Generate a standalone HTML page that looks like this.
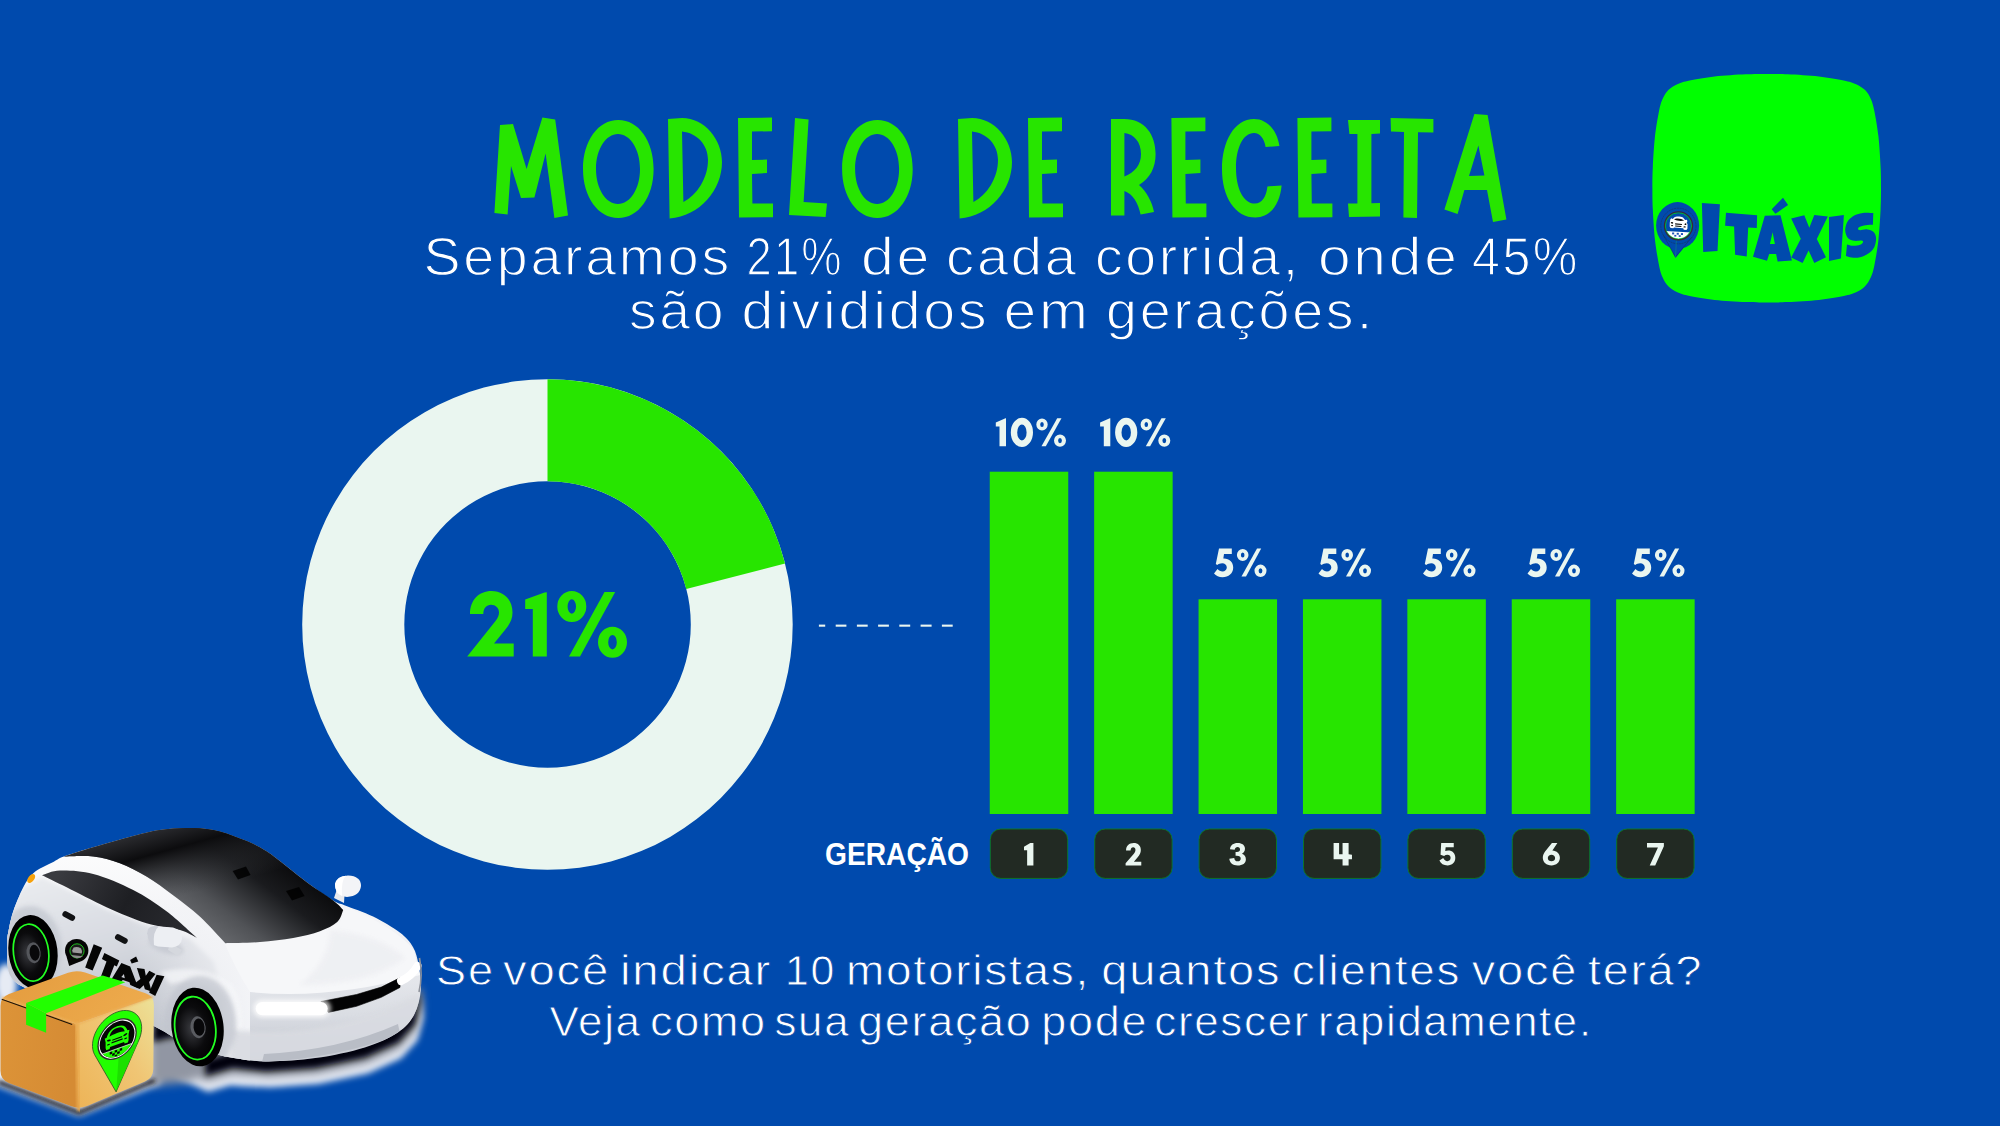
<!DOCTYPE html>
<html lang="pt-BR">
<head>
<meta charset="utf-8">
<title>Modelo de Receita</title>
<style>
  html, body { margin: 0; padding: 0; }
  body { width: 2000px; height: 1126px; overflow: hidden; background: #004AAD; font-family: "Liberation Sans", sans-serif; }
  #stage { position: absolute; left: 0; top: 0; width: 2000px; height: 1126px; display: block; }
  .sub { font-family: "Liberation Sans", sans-serif; fill: #ffffff; }
  .lbl { font-family: "Liberation Sans", sans-serif; font-weight: bold; }
</style>
</head>
<body>
<svg id="stage" width="2000" height="1126" viewBox="0 0 2000 1126">
  <rect x="0" y="0" width="2000" height="1126" fill="#004AAD"/>

  <!-- ===== DONUT ===== -->
  <g id="donut">
    <path fill="#EAF6F0" fill-rule="evenodd" d="M547.5 379.25 A245.25 245.25 0 1 1 547.4 379.25 Z M547.5 481.25 A143.25 143.25 0 1 0 547.6 481.25 Z"/>
    <path fill="#27E500" d="M547.5 379.25 A245.25 245.25 0 0 1 785.05 563.51 L686.25 588.88 A143.25 143.25 0 0 0 547.5 481.25 Z"/>
  </g>

  <!-- ===== DASHED CONNECTOR ===== -->
  <g id="dash" fill="#EAF6F0">
    <rect x="818.9" y="624.6" width="6.3" height="2.1"/>
    <rect x="835.7" y="624.6" width="10.7" height="2.1"/>
    <rect x="856.9" y="624.6" width="10.8" height="2.1"/>
    <rect x="878.1" y="624.6" width="10.8" height="2.1"/>
    <rect x="899.3" y="624.6" width="10.9" height="2.1"/>
    <rect x="920.6" y="624.6" width="11.0" height="2.1"/>
    <rect x="941.9" y="624.6" width="10.8" height="2.1"/>
  </g>

  <!-- ===== BARS ===== -->
  <g id="bars" fill="#27E500">
    <rect x="989.75" y="471.7" width="78.5" height="342.3"/>
    <rect x="1094.15" y="471.7" width="78.5" height="342.3"/>
    <rect x="1198.55" y="599.3" width="78.5" height="214.7"/>
    <rect x="1302.95" y="599.3" width="78.5" height="214.7"/>
    <rect x="1407.35" y="599.3" width="78.5" height="214.7"/>
    <rect x="1511.75" y="599.3" width="78.5" height="214.7"/>
    <rect x="1616.15" y="599.3" width="78.5" height="214.7"/>
  </g>

  <!-- ===== NUMBER BOXES ===== -->
  <g id="boxes" fill="#222A23" stroke="#0C7A24" stroke-width="0.9">
    <rect x="990.30" y="829" width="77.4" height="49.4" rx="10.5" ry="10.5"/>
    <rect x="1094.70" y="829" width="77.4" height="49.4" rx="10.5" ry="10.5"/>
    <rect x="1199.10" y="829" width="77.4" height="49.4" rx="10.5" ry="10.5"/>
    <rect x="1303.50" y="829" width="77.4" height="49.4" rx="10.5" ry="10.5"/>
    <rect x="1407.90" y="829" width="77.4" height="49.4" rx="10.5" ry="10.5"/>
    <rect x="1512.30" y="829" width="77.4" height="49.4" rx="10.5" ry="10.5"/>
    <rect x="1616.70" y="829" width="77.4" height="49.4" rx="10.5" ry="10.5"/>
  </g>

  <g id="title" fill="#27E500">
    <!-- M -->
    <polygon points="500,125 513,124 526.6,169 542.4,117.6 555.2,119.4 568,215.6 554.4,218 545.6,153.6 534.4,197.6 521,198 511,166 507.6,214.4 494.4,213"/>
    <!-- O -->
    <path id="tO" fill-rule="evenodd" d="M583,169 C583,141 598,120 618.3,120 C638.6,120 653.6,141 653.6,169 C653.6,197 638.6,218 618.3,218 C598,218 583,197 583,169 Z M596,169 C596,189 606,204 618,204 C630,204 640,189 640,169 C640,149 630,134 618,134 C606,134 596,149 596,169 Z"/>
    <!-- D -->
    <path id="tD" fill-rule="evenodd" d="M668,119 L682,118 C705,118 722,140 722,162 C722,190 700,216 669.6,218.4 Z M682,131.6 C697,133 708,145 708,160 C708,178 697,195 683.4,202 Z"/>
    <!-- E -->
    <polygon id="tE" points="738,118 772,117.6 772,131.2 752,131.6 752,160 767,159.6 767,173 752,174 752.4,203.4 773,203.4 773,217.2 739,217.6"/>
    <!-- L -->
    <polygon points="795,118 808.6,119.4 803.6,202 827,203.4 825.6,217 789,215"/>
    <!-- O -->
    <use href="#tO" x="259.1" y="0"/>
    <!-- D E -->
    <use href="#tD" x="290" y="0"/>
    <use href="#tE" x="290" y="0"/>
    <!-- R -->
    <path fill-rule="evenodd" d="M1111,119 L1124,119 C1145,119 1155.6,135 1155.6,154 C1155.6,168 1150,178 1139,185 C1147,192 1152,202 1154,212 L1140.6,214.4 C1138,203 1133,194 1124.4,191 L1124.4,215.4 L1111,215.6 Z M1124.4,133 C1134,134 1141,142 1141,154 C1141,165 1135,172 1124.4,176.6 Z"/>
    <!-- E -->
    <use href="#tE" x="433.4" y="0"/>
    <!-- C -->
    <path d="M1279.4,146 C1277,130 1267,119 1254,119 C1234,119 1222,142 1222,169 C1222,197 1235,217.6 1255.6,217.6 C1270,217.6 1280,204 1281.6,185.4 L1267.4,186.4 C1266.5,196 1262,203.6 1255,203.6 C1243,203.6 1236,188 1236,168 C1236,148 1243,133 1254,133 C1260,133 1264.5,139 1265.6,147 Z"/>
    <!-- E -->
    <use href="#tE" x="559.4" y="0"/>
    <!-- I -->
    <polygon points="1348,120 1380,120 1380,133.6 1371.4,134 1371.4,203.2 1380,203 1380,216.6 1349,217 1348,203.4 1357.4,203.4 1357.4,134 1349.4,134"/>
    <!-- T -->
    <polygon points="1390.6,118 1433.4,119 1433.4,132.6 1418,132.3 1417,218 1403.4,217.6 1404,131.9 1391,131.6"/>
    <!-- A -->
    <path fill-rule="evenodd" d="M1474.4,114 L1487.6,115 L1506.4,219.6 L1493,222 L1487,190 L1464.4,190 L1457.6,214 L1444.4,209.4 Z M1478.4,145.6 L1484.4,175.6 L1469,176 Z"/>
  </g>
  <!-- SECTION:TITLE -->
  <g class="sub" font-size="54" letter-spacing="2.6" stroke="#004AAD" stroke-width="1.3">
    <text x="423.5" y="274.5" textLength="308.4" lengthAdjust="spacingAndGlyphs">Separamos</text>
    <text x="746.6" y="274.5" textLength="97.2" lengthAdjust="spacingAndGlyphs">21%</text>
    <text x="860.9" y="274.5" textLength="71.4" lengthAdjust="spacingAndGlyphs">de</text>
    <text x="946.1" y="274.5" textLength="132.7" lengthAdjust="spacingAndGlyphs">cada</text>
    <text x="1095.0" y="274.5" textLength="205.8" lengthAdjust="spacingAndGlyphs">corrida,</text>
    <text x="1317.9" y="274.5" textLength="141.9" lengthAdjust="spacingAndGlyphs">onde</text>
    <text x="1472.1" y="274.5" textLength="107.7" lengthAdjust="spacingAndGlyphs">45%</text>
  </g>
  <g class="sub" font-size="54" letter-spacing="2.6" stroke="#004AAD" stroke-width="1.3">
    <text x="629.0" y="329" textLength="97.3" lengthAdjust="spacingAndGlyphs">são</text>
    <text x="741.5" y="329" textLength="247.8" lengthAdjust="spacingAndGlyphs">divididos</text>
    <text x="1003.5" y="329" textLength="87.3" lengthAdjust="spacingAndGlyphs">em</text>
    <text x="1106.1" y="329" textLength="250.2" lengthAdjust="spacingAndGlyphs">gerações</text>
    <text x="1356.9" y="329">.</text>
  </g>
  <g class="sub" font-size="42" letter-spacing="1.6" stroke="#004AAD" stroke-width="0.8">
    <text x="436.1" y="984.5" textLength="58.6" lengthAdjust="spacingAndGlyphs">Se</text>
    <text x="503.0" y="984.5" textLength="107.2" lengthAdjust="spacingAndGlyphs">você</text>
    <text x="620.0" y="984.5" textLength="152.2" lengthAdjust="spacingAndGlyphs">indicar</text>
    <text x="785.0" y="984.5" textLength="50.8" lengthAdjust="spacingAndGlyphs">10</text>
    <text x="846.0" y="984.5" textLength="244.1" lengthAdjust="spacingAndGlyphs">motoristas,</text>
    <text x="1101.3" y="984.5" textLength="180.0" lengthAdjust="spacingAndGlyphs">quantos</text>
    <text x="1291.8" y="984.5" textLength="169.5" lengthAdjust="spacingAndGlyphs">clientes</text>
    <text x="1471.8" y="984.5" textLength="106.5" lengthAdjust="spacingAndGlyphs">você</text>
    <text x="1588.0" y="984.5" textLength="115.3" lengthAdjust="spacingAndGlyphs">terá?</text>
  </g>
  <g class="sub" font-size="42" letter-spacing="1.6" stroke="#004AAD" stroke-width="0.8">
    <text x="549.5" y="1036.3" textLength="92.2" lengthAdjust="spacingAndGlyphs">Veja</text>
    <text x="650.0" y="1036.3" textLength="116.8" lengthAdjust="spacingAndGlyphs">como</text>
    <text x="774.5" y="1036.3" textLength="75.7" lengthAdjust="spacingAndGlyphs">sua</text>
    <text x="858.0" y="1036.3" textLength="174.6" lengthAdjust="spacingAndGlyphs">geração</text>
    <text x="1041.3" y="1036.3" textLength="107.0" lengthAdjust="spacingAndGlyphs">pode</text>
    <text x="1154.3" y="1036.3" textLength="155.8" lengthAdjust="spacingAndGlyphs">crescer</text>
    <text x="1318.0" y="1036.3" textLength="260.8" lengthAdjust="spacingAndGlyphs">rapidamente</text>
    <text x="1579.2" y="1036.3">.</text>
  </g>
  <!-- SECTION:TEXT -->
  <!-- 21% in donut (glyphs traced at 10x, origin 450,570) -->
  <g id="pct21" fill="#27E500" transform="translate(450 570) scale(0.1)">
    <path d="M200,440 C200,300 290,210 415,210 C540,210 625,300 625,425 C625,500 590,550 550,600 L440,735 L637,735 L637,865 L172,865 L455,510 C480,478 490,450 490,425 C490,380 455,348 410,348 C365,348 333,385 333,440 Z"/>
    <path d="M752,295 L945,225 L968,222 L968,865 L828,865 L828,390 L752,390 Z"/>
    <path fill-rule="evenodd" d="M1073,365 a145,155 0 1,0 290,0 a145,155 0 1,0 -290,0 Z M1176,365 a42,72 0 1,0 84,0 a42,72 0 1,0 -84,0 Z"/>
    <polygon points="1545,220 1652,220 1300,865 1190,865"/>
    <path fill-rule="evenodd" d="M1480,722 a145,155 0 1,0 290,0 a145,155 0 1,0 -290,0 Z M1582,722 a43,73 0 1,0 86,0 a43,73 0 1,0 -86,0 Z"/>
  </g>

  <defs>
    <g id="g10">
      <path d="M108,175 L205,133 L210,133 L210,413 L145,413 L145,215 L108,215 Z"/>
      <path fill-rule="evenodd" d="M258,274 a111,146 0 1,0 222,0 a111,146 0 1,0 -222,0 Z M322,274 a47,80 0 1,0 94,0 a47,80 0 1,0 -94,0 Z"/>
      <path fill-rule="evenodd" d="M513,195 a57,59 0 1,0 114,0 a57,59 0 1,0 -114,0 Z M552,195 a18,25 0 1,0 36,0 a18,25 0 1,0 -36,0 Z"/>
      <polygon points="722,133 765,133 608,413 565,413"/>
      <path fill-rule="evenodd" d="M690,356 a60,62 0 1,0 120,0 a60,62 0 1,0 -120,0 Z M731,356 a19,26 0 1,0 38,0 a19,26 0 1,0 -38,0 Z"/>
    </g>
    <g id="g5">
      <path d="M190,135 L318,135 L318,190 L240,190 L233,235 C290,232 332,268 332,325 C332,385 285,422 225,422 C190,422 160,408 140,385 L175,340 C188,355 205,365 225,365 C250,365 268,348 268,325 C268,300 248,283 222,283 C202,283 185,290 172,300 L158,290 Z"/>
      <path fill-rule="evenodd" d="M369,200 a58,60 0 1,0 116,0 a58,60 0 1,0 -116,0 Z M409,200 a18,25 0 1,0 36,0 a18,25 0 1,0 -36,0 Z"/>
      <polygon points="570,135 612,135 460,415 415,415"/>
      <path fill-rule="evenodd" d="M545,358 a60,62 0 1,0 120,0 a60,62 0 1,0 -120,0 Z M586,358 a19,26 0 1,0 38,0 a19,26 0 1,0 -38,0 Z"/>
    </g>
  </defs>
  <g id="barlabels" fill="#EAF6F0">
    <use href="#g10" transform="translate(985 405) scale(0.1)"/>
    <use href="#g10" transform="translate(1089.3 405) scale(0.1)"/>
    <use href="#g5" transform="translate(1200 535) scale(0.1)"/>
    <use href="#g5" transform="translate(1304.5 535) scale(0.1)"/>
    <use href="#g5" transform="translate(1409 535) scale(0.1)"/>
    <use href="#g5" transform="translate(1513.5 535) scale(0.1)"/>
    <use href="#g5" transform="translate(1618 535) scale(0.1)"/>
  </g>

  <!-- GERAÇÃO + digits -->
  <text class="lbl" x="825" y="865" font-size="30.5" fill="#ffffff" textLength="144" lengthAdjust="spacingAndGlyphs">GERAÇÃO</text>
  <g id="digits" fill="#EAF6F0">
    <path transform="translate(1024 843) scale(0.224)" d="M0,17 L28,0 L42,0 L42,100 L14,100 L14,32 L0,32 Z"/>
    <path transform="translate(1125.6 843) scale(0.224)" d="M2,34 C2,12 16,0 36,0 C56,0 68,12 68,31 C68,43 63,52 54,64 L37,84 L70,84 L70,100 L0,100 L0,90 L36,49 C41,42 44,37 44,31 C44,23 40,19 34,19 C27,19 23,24 22,34 Z"/>
    <path transform="translate(1229.3 843) scale(0.224)" d="M3,28 C5,10 18,0 37,0 C58,0 70,10 70,26 C70,37 64,44 56,48 C67,51 74,60 74,72 C74,90 60,100 37,100 C16,100 2,89 0,70 L22,67 C23,77 29,82 37,82 C45,82 51,77 51,70 C51,61 45,57 34,57 L28,57 L28,40 L34,40 C43,40 48,36 48,29 C48,22 44,18 37,18 C30,18 26,22 24,30 Z"/>
    <path transform="translate(1333.6 843) scale(0.224)" d="M0,0 L24.5,0 L24.5,50 L40,50 L40,0 L67,0 L67,50 L82,52 L82,72.7 L67,72.7 L67,100 L40,100 L40,72.7 L0,72.7 Z"/>
    <path transform="translate(1439.4 843) scale(0.224)" d="M8,0 L64,0 L64,19 L28,19 L26,36 C30,35 34,34 39,34 C58,34 71,46 71,66 C71,87 57,100 36,100 C19,100 6,92 0,78 L17,67 C21,76 28,81 36,81 C44,81 50,75 50,66 C50,57 44,52 36,52 C30,52 25,54 21,58 L5,53 Z"/>
    <path transform="translate(1542.8 843) scale(0.228 0.224)" fill-rule="evenodd" d="M40,0 L64,0 L42,34 C61,35 75,48 75,66 C75,86 59,100 38,100 C16,100 0,86 0,66 C0,55 4,47 10,38 Z M38,52 C29,52 22,58 22,67 C22,76 29,82 38,82 C47,82 54,76 54,67 C54,58 47,52 38,52 Z"/>
    <path transform="translate(1647 843) scale(0.228 0.224)" d="M0,0 L74,0 L74,14 L36,100 L12,100 L48,20 L0,20 Z"/>
  </g>
  <!-- SECTION:LABELS -->
  <g id="logo">
    <path fill="#00FF00" d="M1766.7,73.9 C1759.7,73.9 1754.4,73.9 1745.7,74.3 C1737.0,74.7 1723.9,75.5 1714.6,76.5 C1705.2,77.6 1695.9,79.3 1689.7,80.5 C1683.5,81.8 1680.8,82.6 1677.3,84.2 C1673.8,85.7 1671.1,87.3 1668.6,89.8 C1666.2,92.2 1664.3,95.3 1662.7,98.8 C1661.1,102.4 1660.3,105.0 1659.0,111.2 C1657.8,117.4 1656.1,126.7 1655.0,136.1 C1654.0,145.4 1653.2,158.5 1652.8,167.2 C1652.4,175.9 1652.4,181.2 1652.4,188.2 C1652.4,195.2 1652.4,200.5 1652.8,209.2 C1653.2,217.9 1654.0,231.0 1655.0,240.3 C1656.1,249.7 1657.8,259.0 1659.0,265.2 C1660.3,271.4 1661.1,274.1 1662.7,277.6 C1664.2,281.1 1665.8,283.8 1668.3,286.3 C1670.7,288.7 1673.8,290.6 1677.3,292.2 C1680.9,293.8 1683.5,294.6 1689.7,295.9 C1695.9,297.1 1705.2,298.8 1714.6,299.9 C1723.9,300.9 1737.0,301.7 1745.7,302.1 C1754.4,302.5 1759.7,302.5 1766.7,302.5 C1773.7,302.5 1779.0,302.5 1787.7,302.1 C1796.4,301.7 1809.5,300.9 1818.8,299.9 C1828.2,298.8 1837.5,297.1 1843.7,295.9 C1849.9,294.6 1852.6,293.8 1856.1,292.2 C1859.6,290.7 1862.3,289.1 1864.8,286.6 C1867.2,284.2 1869.1,281.1 1870.7,277.6 C1872.3,274.0 1873.1,271.4 1874.4,265.2 C1875.6,259.0 1877.3,249.7 1878.4,240.3 C1879.4,231.0 1880.2,217.9 1880.6,209.2 C1881.0,200.5 1881.0,195.2 1881.0,188.2 C1881.0,181.2 1881.0,175.9 1880.6,167.2 C1880.2,158.5 1879.4,145.4 1878.4,136.1 C1877.3,126.7 1875.6,117.4 1874.4,111.2 C1873.1,105.0 1872.3,102.3 1870.7,98.8 C1869.2,95.3 1867.6,92.6 1865.1,90.1 C1862.7,87.7 1859.6,85.8 1856.1,84.2 C1852.5,82.6 1849.9,81.8 1843.7,80.5 C1837.5,79.3 1828.2,77.6 1818.8,76.5 C1809.5,75.5 1796.4,74.7 1787.7,74.3 C1779.0,73.9 1773.7,73.9 1766.7,73.9 Z"/>
    <g fill="#004AAD">
      <!-- pin -->
      <ellipse cx="1677.6" cy="225.6" rx="21.5" ry="23.5"/>
      <polygon points="1669.4,246.6 1675.5,258.1 1683.8,247.8 1677,240"/>
      <!-- I -->
      <polygon points="1701.9,203.1 1719.9,204.3 1717.5,251 1703.2,251.9"/>
      <!-- T -->
      <polygon points="1726,212.7 1757.1,215.2 1756.8,228 1748.2,227.6 1746.7,256.6 1735.1,254.8 1734.1,226.4 1725.1,225.8"/>
      <!-- A + accent -->
      <polygon points="1783,197.8 1788.1,205.1 1775.4,213.8 1771.7,209.2"/>
      <path fill-rule="evenodd" d="M1764.8,215.7 L1780.5,215.2 L1791.9,260.4 L1777.6,261.6 L1776.1,254 L1769.2,254 L1767,260.7 L1753,256.8 Z M1772.6,232.3 L1774.9,244 L1769.9,244 Z"/>
      <!-- X -->
      <polygon points="1791.2,218.4 1804.3,215.2 1809.3,227.7 1814.3,215 1827.8,216.4 1816.8,239 1826,257.2 1814.3,262.9 1808.6,250.4 1802.6,263.1 1791.2,257.5 1800.8,238.7"/>
      <!-- I -->
      <polygon points="1829,217 1843.9,215 1840.9,258.6 1829,260.9"/>
      <!-- S -->
      <path d="M1873.3,213.1 C1872.0,213.0 1868.0,212.6 1865.8,212.7 C1863.6,212.8 1862.2,212.9 1860.1,213.5 C1858.0,214.1 1855.1,214.9 1853.0,216.3 C1850.9,217.7 1848.6,219.6 1847.3,222.0 C1846.0,224.4 1845.1,227.8 1845.2,230.5 C1845.3,233.2 1846.5,236.6 1848.1,238.3 C1849.6,240.0 1852.2,240.4 1854.5,240.8 C1856.8,241.2 1860.2,240.3 1861.6,240.5 C1863.0,240.7 1863.2,241.5 1863.0,242.2 C1862.8,242.9 1861.8,244.1 1860.1,244.7 C1858.4,245.3 1855.2,245.9 1853.0,245.8 C1850.8,245.8 1848.0,244.6 1847.0,244.4 L1845.9,256.1 C1846.9,256.3 1849.2,257.3 1851.6,257.5 C1854.0,257.7 1857.2,257.9 1860.1,257.2 C1862.9,256.5 1866.3,255.0 1868.7,253.3 C1871.1,251.6 1873.2,249.4 1874.4,246.9 C1875.6,244.4 1876.2,240.8 1876.1,238.3 C1876.0,235.8 1875.1,233.4 1873.6,231.9 C1872.1,230.4 1869.5,229.7 1867.2,229.4 C1865.0,229.1 1861.6,230.2 1860.1,230.2 C1858.6,230.1 1858.1,229.6 1858.0,229.1 C1857.9,228.6 1858.1,227.7 1859.4,227.0 C1860.7,226.3 1863.5,225.6 1865.8,225.2 C1868.0,224.8 1871.7,224.9 1872.9,224.8 Z"/>
    </g>
    <!-- pin emblem -->
    <g>
      <ellipse cx="1678.4" cy="226" rx="17.6" ry="17.8" fill="none" stroke="#23283a" stroke-width="0.45" opacity="0.85" stroke-dasharray="2.2 0.6"/>
      <path d="M1663.6,235.5 L1675.4,257 L1691.6,237.5" fill="none" stroke="#23283a" stroke-width="0.45" opacity="0.85"/>
      <line x1="1676.4" y1="240.5" x2="1675.5" y2="257" stroke="#13907a" stroke-width="0.5"/>
      <clipPath id="pinclip"><circle cx="1678.4" cy="225.9" r="13"/></clipPath>
      <circle cx="1678.4" cy="225.9" r="13" fill="#004AAD"/>
      <g clip-path="url(#pinclip)">
        <polygon points="1660,230.6 1700,232.9 1700,245 1660,245" fill="#ffffff"/>
        <!-- checker -->
        <g fill="#1f55b5">
          <rect x="1672.1" y="232.5" width="2.1" height="1.9"/><rect x="1676.7" y="232.8" width="2.1" height="1.9"/><rect x="1680.9" y="233.1" width="2.1" height="1.9"/>
          <rect x="1674.3" y="234.9" width="2.0" height="1.7"/><rect x="1678.7" y="235.2" width="2.0" height="1.7"/>
        </g>
      </g>
      <circle cx="1678.4" cy="225.9" r="13.1" fill="none" stroke="#00E400" stroke-width="0.7"/>
      <circle cx="1678.5" cy="225.8" r="14.1" fill="none" stroke="#3A2B2E" stroke-width="1.15"/>
      <!-- mini car -->
      <g>
        <path fill="#ffffff" d="M1669.8,222.5 L1670.3,219.4 L1671.2,218.3 L1672.7,219.1 L1674.2,217.4 C1676,216.2 1680.4,216.3 1683,217.5 L1685.1,219.9 L1686.8,219.8 L1687.5,221.2 L1686.7,222.3 L1687.6,224.6 L1687.4,228.7 L1686.4,229.9 L1683.8,229.7 L1683.2,228.3 L1674,227.5 L1673.4,228.3 L1670.6,228.1 L1669.7,226.6 Z"/>
        <path fill="#0a0a0a" d="M1674,219.6 C1675.4,217.8 1681.4,218 1684.2,220.6 C1681.5,221.3 1676.5,221 1674,219.6 Z"/>
        <path fill="#0a0a0a" d="M1675.1,223.3 L1682,223.9 L1681.9,225 L1675.1,224.5 Z"/>
        <path fill="#0a0a0a" d="M1675.2,225.5 L1681.4,226 L1681.3,226.9 L1675.2,226.5 Z"/>
        <ellipse cx="1672" cy="222.8" rx="1.25" ry="0.85" fill="#0a0a0a" transform="rotate(15 1672 222.8)"/>
        <ellipse cx="1685.5" cy="224.2" rx="1.0" ry="0.85" fill="#0a0a0a" transform="rotate(-20 1685.5 224.2)"/>
        <ellipse cx="1672.1" cy="225.6" rx="1.1" ry="0.55" fill="#0a0a0a"/>
        <ellipse cx="1684.6" cy="226.9" rx="1.2" ry="0.55" fill="#0a0a0a"/>
      </g>
    </g>
  </g>
  <!-- SECTION:LOGO -->
  <defs>
    <filter id="blur10" x="-30%" y="-30%" width="160%" height="160%"><feGaussianBlur stdDeviation="9"/></filter>
    <filter id="blur3" x="-30%" y="-30%" width="160%" height="160%"><feGaussianBlur stdDeviation="3.2"/></filter>
    <filter id="blur5" x="-30%" y="-30%" width="160%" height="160%"><feGaussianBlur stdDeviation="5"/></filter>
    <filter id="blur2" x="-30%" y="-30%" width="160%" height="160%"><feGaussianBlur stdDeviation="2"/></filter>
    <filter id="blur1" x="-30%" y="-30%" width="160%" height="160%"><feGaussianBlur stdDeviation="1"/></filter>
    <linearGradient id="bodyG" x1="0" y1="0" x2="0" y2="1">
      <stop offset="0" stop-color="#FFFFFF"/><stop offset="0.45" stop-color="#F1F2F5"/><stop offset="0.8" stop-color="#DADDE3"/><stop offset="1" stop-color="#BFC3CC"/>
    </linearGradient>
    <linearGradient id="sideG" x1="0" y1="0" x2="0.35" y2="1">
      <stop offset="0" stop-color="#ECEEF1"/><stop offset="0.5" stop-color="#D5D8DF"/><stop offset="1" stop-color="#AEB3BD"/>
    </linearGradient>
    <linearGradient id="glassG" gradientUnits="userSpaceOnUse" x1="290" y1="850" x2="215" y2="950">
      <stop offset="0" stop-color="#050506"/><stop offset="0.35" stop-color="#1A1B1E"/><stop offset="0.7" stop-color="#505256"/><stop offset="1" stop-color="#6E7074"/>
    </linearGradient>
    <linearGradient id="roofG" gradientUnits="userSpaceOnUse" x1="150" y1="828" x2="170" y2="900">
      <stop offset="0" stop-color="#2E2F33"/><stop offset="0.35" stop-color="#0C0C0E"/><stop offset="1" stop-color="#3B3D41" stop-opacity="0"/>
    </linearGradient>
    <linearGradient id="winG" gradientUnits="userSpaceOnUse" x1="60" y1="870" x2="190" y2="940">
      <stop offset="0" stop-color="#3A3B40"/><stop offset="0.5" stop-color="#1E1F23"/><stop offset="1" stop-color="#2B2C31"/>
    </linearGradient>
    <radialGradient id="tireG" cx="0.42" cy="0.5" r="0.6">
      <stop offset="0" stop-color="#3A3B40"/><stop offset="0.55" stop-color="#0B0B0D"/><stop offset="1" stop-color="#000000"/>
    </radialGradient>
    <linearGradient id="fenderFade" x1="0" y1="0" x2="1" y2="0">
      <stop offset="0" stop-color="#F2F3F6" stop-opacity="0"/><stop offset="0.55" stop-color="#F2F3F6" stop-opacity="0.6"/><stop offset="1" stop-color="#F4F5F8" stop-opacity="0.95"/>
    </linearGradient>
    <linearGradient id="boxTop" x1="0" y1="0" x2="1" y2="0.3"><stop offset="0" stop-color="#E39B3E"/><stop offset="1" stop-color="#EDAA4C"/></linearGradient>
    <linearGradient id="boxL" x1="0" y1="0" x2="1" y2="0.2"><stop offset="0" stop-color="#DD9438"/><stop offset="1" stop-color="#D58B34"/></linearGradient>
    <linearGradient id="boxR" x1="0" y1="1" x2="1" y2="0"><stop offset="0" stop-color="#EDB356"/><stop offset="0.55" stop-color="#F0C574"/><stop offset="1" stop-color="#ECE39A"/></linearGradient>
    <clipPath id="silclip"><path d="M40.0,868.6 C43.7,866.4 49.3,864.0 53.3,862.0 C57.3,860.0 57.2,859.1 63.9,856.6 C70.5,854.1 81.7,850.7 93.2,847.3 C104.8,843.9 122.1,838.9 133.2,836.0 C144.3,833.1 150.9,831.3 159.8,830.0 C168.7,828.7 177.6,828.0 186.5,828.0 C195.4,828.0 204.4,828.2 213.3,830.0 C222.2,831.8 231.1,835.0 240.0,838.5 C248.9,842.0 255.5,844.0 266.6,851.3 C277.7,858.5 295.4,873.8 306.5,882.0 C317.6,890.2 326.8,896.7 333.2,900.6 C339.6,904.5 338.4,902.8 345.0,905.5 C351.6,908.2 364.0,912.1 373.1,916.6 C382.2,921.1 393.1,927.5 399.8,932.6 C406.5,937.7 410.0,941.8 413.1,947.2 C416.2,952.6 417.2,957.7 418.5,964.8 C419.8,971.9 421.6,981.4 420.9,989.6 C420.2,997.9 418.1,1007.1 414.3,1014.3 C410.5,1021.4 406.1,1027.0 397.8,1032.5 C389.6,1038.0 378.6,1043.1 364.8,1047.4 C351.0,1051.7 331.7,1055.8 315.2,1058.1 C298.7,1060.4 280.1,1061.6 265.6,1061.4 C251.1,1061.2 237.3,1058.6 228.0,1057.0 C218.7,1055.4 217.2,1054.0 210.0,1052.0 C202.8,1050.0 192.5,1048.3 185.0,1045.0 C177.5,1041.7 172.5,1036.2 165.0,1032.0 C157.5,1027.8 150.8,1024.5 140.0,1020.0 C129.2,1015.5 113.3,1009.2 100.0,1005.0 C86.7,1000.8 71.7,997.5 60.0,995.0 C48.3,992.5 38.3,993.3 30.0,990.0 C21.7,986.7 13.8,982.8 10.0,975.0 C6.2,967.2 7.5,950.7 7.3,943.2 C7.1,935.7 7.9,934.6 8.7,929.9 C9.5,925.2 10.6,920.1 12.0,915.2 C13.4,910.3 15.3,905.5 17.3,900.6 C19.3,895.7 21.7,890.1 24.0,885.9 C26.3,881.7 28.6,878.2 31.3,875.3 C34.0,872.4 36.3,870.8 40.0,868.6 Z"/></clipPath>
  </defs>
  <g id="car">
    <!-- white halo -->
    <g filter="url(#blur3)" fill="#E6EBF4">
      <polygon points="150.0,1024.0 175.0,1046.0 205.0,1060.0 232.0,1052.0 265.6,1055.4 315.2,1052.1 364.8,1041.4 397.8,1026.5 414.3,1008.3 420.0,986.0 423.1,1018.0 417.4,1040.3 400.9,1058.5 367.9,1073.4 318.3,1084.1 268.7,1087.4 235.1,1084.0 208.1,1092.0 178.1,1078.0 153.1,1056.0"/>
      <ellipse cx="262" cy="1046" rx="108" ry="41"/>
      <polygon points="-8,1000 -8,1084 79,1116 160,1084 172,1040 150,1000"/>
      <ellipse cx="6" cy="984" rx="11" ry="20"/>
    </g>
    <!-- ground shadow -->
    <g filter="url(#blur5)" fill="#9196A3">
      <polygon points="150.0,1024.0 175.0,1046.0 205.0,1060.0 232.0,1052.0 265.6,1055.4 315.2,1052.1 364.8,1041.4 397.8,1026.5 414.3,1008.3 420.0,986.0 421.9,1008.0 416.2,1030.3 399.7,1048.5 366.7,1063.4 317.1,1074.1 267.5,1077.4 233.9,1074.0 206.9,1082.0 176.9,1068.0 151.9,1046.0"/>
      <ellipse cx="262" cy="1046" rx="100" ry="30"/>
      <polygon points="150,1030 215,1066 190,1082 150,1086"/>
    </g>
    <g filter="url(#blur3)" fill="#040407">
      <polygon points="205.0,1060.0 232.0,1052.0 265.6,1055.4 315.2,1052.1 364.8,1041.4 397.8,1026.5 414.3,1008.3 420.0,986.0 420.5,1002.0 414.8,1024.3 398.3,1042.5 365.3,1057.4 315.7,1068.1 266.1,1071.4 232.5,1068.0 205.5,1076.0"/>
      <polygon points="153,1000 170,1010 182,1036 153,1042"/>
    </g>
    <!-- box contact shadow -->
    <g filter="url(#blur2)" fill="none" stroke="#15161c" stroke-width="5" opacity="0.85" stroke-linecap="round">
      <path d="M0,1082.5 L79,1112.5 L153,1081"/>
    </g>
    <!-- body -->
    <path d="M40.0,868.6 C43.7,866.4 49.3,864.0 53.3,862.0 C57.3,860.0 57.2,859.1 63.9,856.6 C70.5,854.1 81.7,850.7 93.2,847.3 C104.8,843.9 122.1,838.9 133.2,836.0 C144.3,833.1 150.9,831.3 159.8,830.0 C168.7,828.7 177.6,828.0 186.5,828.0 C195.4,828.0 204.4,828.2 213.3,830.0 C222.2,831.8 231.1,835.0 240.0,838.5 C248.9,842.0 255.5,844.0 266.6,851.3 C277.7,858.5 295.4,873.8 306.5,882.0 C317.6,890.2 326.8,896.7 333.2,900.6 C339.6,904.5 338.4,902.8 345.0,905.5 C351.6,908.2 364.0,912.1 373.1,916.6 C382.2,921.1 393.1,927.5 399.8,932.6 C406.5,937.7 410.0,941.8 413.1,947.2 C416.2,952.6 417.2,957.7 418.5,964.8 C419.8,971.9 421.6,981.4 420.9,989.6 C420.2,997.9 418.1,1007.1 414.3,1014.3 C410.5,1021.4 406.1,1027.0 397.8,1032.5 C389.6,1038.0 378.6,1043.1 364.8,1047.4 C351.0,1051.7 331.7,1055.8 315.2,1058.1 C298.7,1060.4 280.1,1061.6 265.6,1061.4 C251.1,1061.2 237.3,1058.6 228.0,1057.0 C218.7,1055.4 217.2,1054.0 210.0,1052.0 C202.8,1050.0 192.5,1048.3 185.0,1045.0 C177.5,1041.7 172.5,1036.2 165.0,1032.0 C157.5,1027.8 150.8,1024.5 140.0,1020.0 C129.2,1015.5 113.3,1009.2 100.0,1005.0 C86.7,1000.8 71.7,997.5 60.0,995.0 C48.3,992.5 38.3,993.3 30.0,990.0 C21.7,986.7 13.8,982.8 10.0,975.0 C6.2,967.2 7.5,950.7 7.3,943.2 C7.1,935.7 7.9,934.6 8.7,929.9 C9.5,925.2 10.6,920.1 12.0,915.2 C13.4,910.3 15.3,905.5 17.3,900.6 C19.3,895.7 21.7,890.1 24.0,885.9 C26.3,881.7 28.6,878.2 31.3,875.3 C34.0,872.4 36.3,870.8 40.0,868.6 Z" fill="url(#bodyG)"/>
    <g clip-path="url(#silclip)">
      <!-- side surface (door) -->
      <path d="M22,888 L42,877 L66,889 L106,909 L146,925 L190,939 L214,962 L224,1000 L228,1062 L0,1012 L0,930 Z" fill="url(#sideG)" filter="url(#blur2)"/>
      <rect x="130" y="900" width="120" height="170" fill="url(#fenderFade)"/>
      <!-- fender highlight -->
      <path d="M160,972 Q200,962 232,984 Q246,1006 240,1040 L228,1000 Q206,976 170,984 Z" fill="#F6F7F9" opacity="0.75" filter="url(#blur2)"/>
      <!-- hood panel -->
      <path d="M225,944 Q300,943 340,922 L346,907 Q395,927 414,950 L420,975 Q330,1000 250,992 Q236,970 225,944 Z" fill="#F6F7F9"/>
      <path d="M330,930 Q380,935 405,958 Q370,985 300,985 Q330,960 330,930 Z" fill="#ECEDF1" opacity="0.7" filter="url(#blur2)"/>
      <!-- bumper lower shade -->
      <path d="M232,1030 Q330,1040 418,995 L420,1020 Q340,1064 230,1064 Z" fill="#D9DBE1" opacity="0.9" filter="url(#blur2)"/>
      <path d="M264,1054 Q340,1050 398,1024 L400,1034 Q340,1058 262,1062 Z" fill="#B9BDC6"/>
      <!-- front wheel arch shading -->
      <ellipse cx="200" cy="1024" rx="36" ry="48" fill="#BFC3CC" opacity="0.7" filter="url(#blur2)"/>
      <ellipse cx="30" cy="950" rx="32" ry="44" fill="#C5C9D1" opacity="0.8" filter="url(#blur2)"/>
    </g>
    <!-- glass canopy -->
    <path d="M63.9,856.6 C68.8,855.0 81.7,850.7 93.2,847.3 C104.8,843.9 122.1,838.9 133.2,836.0 C144.3,833.1 150.9,831.3 159.8,830.0 C168.7,828.7 177.6,828.0 186.5,828.0 C195.4,828.0 204.4,828.2 213.3,830.0 C222.2,831.8 231.1,835.0 240.0,838.5 C248.9,842.0 255.5,844.0 266.6,851.3 C277.7,858.5 295.4,873.8 306.5,882.0 C317.6,890.2 327.1,895.9 333.2,900.6 C339.3,905.3 341.5,908.4 343.2,910.0 L343.2,910.0 C342.2,912.0 341.1,918.5 337.2,922.0 C333.3,925.5 327.3,928.5 320.0,931.2 C312.7,933.9 303.2,936.2 293.2,938.0 C283.2,939.8 271.3,941.1 260.0,942.0 C248.7,942.9 231.1,943.0 225.3,943.2 L225.3,943.2 C221.1,938.8 208.5,924.5 199.8,916.5 C191.1,908.5 182.0,901.9 173.1,895.2 C164.2,888.6 155.4,881.9 146.5,876.6 C137.6,871.3 128.8,866.6 119.9,863.3 C111.0,860.0 102.5,857.7 93.2,856.6 C83.9,855.5 68.8,856.6 63.9,856.6 Z" fill="url(#glassG)"/>
    <path d="M63.9,856.6 C68.8,855.0 81.7,850.7 93.2,847.3 C104.8,843.9 122.1,838.9 133.2,836.0 C144.3,833.1 150.9,831.3 159.8,830.0 C168.7,828.7 177.6,828.0 186.5,828.0 C195.4,828.0 204.4,828.2 213.3,830.0 C222.2,831.8 231.1,835.0 240.0,838.5 C248.9,842.0 255.5,844.0 266.6,851.3 C277.7,858.5 295.4,873.8 306.5,882.0 C317.6,890.2 327.1,895.9 333.2,900.6 C339.3,905.3 341.5,908.4 343.2,910.0 L343.2,910.0 C342.2,912.0 341.1,918.5 337.2,922.0 C333.3,925.5 327.3,928.5 320.0,931.2 C312.7,933.9 303.2,936.2 293.2,938.0 C283.2,939.8 271.3,941.1 260.0,942.0 C248.7,942.9 231.1,943.0 225.3,943.2 L225.3,943.2 C221.1,938.8 208.5,924.5 199.8,916.5 C191.1,908.5 182.0,901.9 173.1,895.2 C164.2,888.6 155.4,881.9 146.5,876.6 C137.6,871.3 128.8,866.6 119.9,863.3 C111.0,860.0 102.5,857.7 93.2,856.6 C83.9,855.5 68.8,856.6 63.9,856.6 Z" fill="url(#roofG)"/>
    <path d="M232.6,871 L246,866.5 L250.6,875 L238,879.5 Z" fill="#000" opacity="0.85"/>
    <path d="M286,891 L299,887 L304.6,896 L292,900.5 Z" fill="#000" opacity="0.85"/>
    <!-- side window -->
    <path d="M42.0,875.3 C45.0,874.5 51.5,870.8 60.0,870.6 C68.5,870.4 81.0,870.8 93.2,874.0 C105.4,877.2 121.0,883.8 133.2,890.0 C145.4,896.2 155.9,903.2 166.5,911.2 C177.1,919.2 191.9,933.5 197.0,937.9 L197.0,937.9 C194.2,936.6 188.4,932.5 180.0,930.0 C171.6,927.5 158.8,927.0 146.5,923.2 C134.2,919.4 119.8,913.2 106.5,907.2 C93.2,901.2 77.3,892.6 66.6,887.3 C55.8,882.0 46.1,877.3 42.0,875.3 Z" fill="url(#winG)"/>
    <!-- orange lamp -->
    <ellipse cx="31.2" cy="878.5" rx="5.2" ry="3" fill="#F6A20C" transform="rotate(-52 31.2 878.5)"/>
    <!-- door handles -->
    <rect x="62" y="913" width="13.5" height="6" rx="2.8" fill="#111214" transform="rotate(28 68.7 916)"/>
    <rect x="114.6" y="936" width="13.5" height="6" rx="2.8" fill="#111214" transform="rotate(28 121.3 939)"/>
    <!-- left mirror -->
    <ellipse cx="166" cy="946" rx="18" ry="7" fill="#B9BDC7" opacity="0.55" filter="url(#blur2)" transform="rotate(18 166 946)"/>
    <path d="M170,943 L182,950 L178,956 L168,950 Z" fill="#D5D8DE"/>
    <path d="M147,933.5 Q146.5,926.5 154,926 L173,927.5 Q183,930 182,939 Q181,946.5 172,947.5 L158,946.5 Q148,944.5 147,933.5 Z" fill="#EDEFF3"/>
    <path d="M147,933.5 Q146.5,926.5 154,926 L159,926.3 Q152.5,931 154,946 Q147.8,943 147,933.5 Z" fill="#CDD0D8"/>
    <!-- right mirror -->
    <path d="M334,898 L338,886 L345,888 L344,903 Z" fill="#E8EAEE"/>
    <path d="M335,884 Q337,876 348,875.5 Q361,876 361,886 Q360,896 347,897 Q335,896 335,884 Z" fill="#F3F4F7"/>
    <path d="M335,884 Q337,876 346,875.7 Q341,880 342,896 Q335,893 335,884 Z" fill="#FFFFFF"/>
    <!-- grille + headlights -->
    <path d="M321,1001.5 L356.5,994.5 L381.3,987.1 L400.3,977.6 L400,987.4 L381.3,997.3 L356.5,1006.3 L328.4,1012.4 Z" fill="#030304" stroke="#030304" stroke-width="0.6" stroke-linejoin="round"/>
    <rect x="253" y="999.5" width="78" height="18" rx="9" fill="#FFFFFF" opacity="0.75" filter="url(#blur2)"/>
    <rect x="255.7" y="1002" width="72" height="13.2" rx="6.6" fill="#FFFFFF"/>
    <path d="M401,981 Q412,976 417.5,966" stroke="#FFFFFF" stroke-width="8" stroke-linecap="round" fill="none"/>
    <path d="M419.5,958 Q423,975 419,992" stroke="#8E929B" stroke-width="1.6" fill="none"/>
    <!-- rear wheel -->
    <g transform="rotate(-7 32 952)">
      <ellipse cx="33" cy="952" rx="24.5" ry="37" fill="#000"/>
      <ellipse cx="31" cy="952.5" rx="19" ry="30.5" fill="url(#tireG)"/>
      <ellipse cx="31" cy="952.5" rx="17.6" ry="28.6" fill="none" stroke="#22FF22" stroke-width="1.7"/>
      <ellipse cx="33.5" cy="953" rx="7" ry="10.5" fill="#55575C"/>
      <ellipse cx="34.5" cy="953" rx="5" ry="8" fill="#08080A"/>
    </g>
    <!-- front wheel -->
    <g transform="rotate(-7 196 1027)">
      <ellipse cx="197.5" cy="1027.2" rx="26" ry="39.5" fill="#000"/>
      <ellipse cx="195.1" cy="1028" rx="21.5" ry="33" fill="url(#tireG)"/>
      <ellipse cx="195.1" cy="1028" rx="20.4" ry="31.6" fill="none" stroke="#22FF22" stroke-width="1.8"/>
      <ellipse cx="198" cy="1027.5" rx="7.5" ry="11" fill="#5A5C61"/>
      <ellipse cx="199" cy="1027.5" rx="5.5" ry="8.6" fill="#08080A"/>
    </g>
    <!-- door branding -->
    <g fill="#050505">
      <circle cx="76.7" cy="950.6" r="11.7"/>
      <polygon points="66.5,956.5 69.2,965.9 79.5,961.8"/>
      <polygon points="93.7,944.2 102.2,947.7 92.6,970.5 85.2,967.6"/>
      <polygon points="104.4,953.1 119.3,960.5 116.8,966.6 114.3,965.2 109.0,979.0 101.2,975.8 106.5,961.6 101.9,959.1"/>
      <path fill-rule="evenodd" d="M121.4,963.0 L130.2,966.4 L138.5,988.6 L130.3,985.1 L129.5,982.2 L122.9,980.1 L120.0,982.2 L111.5,979.2 Z M123.9,974.0 L124.8,978.2 L121.3,977.0 Z"/>
      <polygon points="136.1,956.6 138.3,961.6 131.7,963.4 130.1,960.0"/>
      <polygon points="136.9,968.0 144.5,968.9 145.8,975.8 149.3,970.7 155.5,973.9 149.1,981.9 151.5,991.5 144.9,989.3 143.7,985.3 139.7,989.0 132.3,985.3 140.4,978.9"/>
      <polygon points="156.6,974.8 164.4,976.2 155.2,996.1 149.1,992.5"/>
    </g>
    <circle cx="77" cy="950.9" r="7.1" fill="#1A1A1A" stroke="#1FD21F" stroke-width="0.9"/>
    <path d="M72.3,950.2 L73.6,947.6 Q77,946.2 80.8,948.2 L82,950.8 L81.8,953.6 L72.6,952.6 Z" fill="#9A9A9A"/>
    <path d="M71,955 L83,956.3 Q80,958.6 76.5,958.3 Q73,957.8 71,955 Z" fill="#8C8C8C"/>
  </g>
  <!-- SECTION:CAR -->
  <g id="box">
    <!-- box faces clipped to rounded silhouette -->
    <clipPath id="boxclip"><path d="M0.5,1006.0 Q0.5,997.0 9.0,994.0 L68.1,972.7 Q76.6,969.7 85.1,972.6 L145.5,993.2 Q154.0,996.1 153.9,1005.1 L153.3,1069.0 Q153.2,1078.0 144.9,1081.5 L87.5,1105.8 Q79.2,1109.3 70.8,1106.1 L8.9,1082.9 Q0.5,1079.7 0.5,1070.7 Z"/></clipPath>
    <g clip-path="url(#boxclip)">
      <polygon points="-2,997 76.6,1024 79.2,1112 -2,1082" fill="url(#boxL)"/>
      <polygon points="76.6,1024 156,996.1 155,1080 79.2,1112" fill="url(#boxR)"/>
      <polygon points="-2,997 76.6,967 156,996.1 76.6,1024" fill="url(#boxTop)"/>
    </g>
    <!-- soft edges -->
    <path d="M76.6,1024 L79.2,1109" stroke="#E9A94E" stroke-width="5" stroke-linecap="round" opacity="0.85" filter="url(#blur1)"/>
    <path d="M2,997.6 L76.6,1024 L153,996.6" stroke="#EDB058" stroke-width="2.2" fill="none" opacity="0.8" filter="url(#blur1)"/>
    <!-- seam -->
    <path d="M1.7,999.2 L72.2,1024.4" stroke="#1D1206" stroke-width="1.1" fill="none"/>
    <!-- tape -->
    <polygon points="26.1,1003.1 46.1,1013.2 125.3,982.2 102.7,975.6" fill="#22FF00"/>
    <polygon points="26.1,1003.1 46.1,1013.2 46.1,1032.7 26.1,1024.8" fill="#1FF500"/>
    <!-- pin on right face -->
    <g transform="translate(117.1 1039.1) skewY(-19.8)">
      <path d="M-22.5,7.5 A24.6,24.6 0 1 1 22.2,8 L-1,52.4 Z" fill="#22FF00" stroke="#234423" stroke-width="0.7" stroke-linejoin="round"/>
      <polygon points="1.5,19.5 21.3,9.8 -0.8,51.6" fill="#1CE000"/>
      <circle cx="0" cy="0" r="19.7" fill="#2E2A2A"/>
      <circle cx="0" cy="0" r="18.4" fill="#FFFFFF"/>
      <circle cx="0" cy="0" r="17.4" fill="#050505"/>
      <path d="M-14.5,9.6 A17.4,17.4 0 0 0 14.5,9.6 Z" fill="#22FF00"/>
      <line x1="-14.8" y1="9.6" x2="14.8" y2="9.6" stroke="#FFFFFF" stroke-width="0.6"/>
      <g fill="#050505">
        <rect x="-7.4" y="10.6" width="2.5" height="2.3"/><rect x="-2.4" y="10.6" width="2.5" height="2.3"/><rect x="2.6" y="10.6" width="2.5" height="2.3"/>
        <rect x="-4.9" y="12.9" width="2.5" height="2.3"/><rect x="0.1" y="12.9" width="2.5" height="2.3"/>
        <rect x="-2.4" y="15.2" width="2.5" height="1.6"/>
      </g>
      <g>
        <path fill="#22FF00" d="M-11.5,-1 L-12.4,-4.8 L-10.4,-5 C-9,-9.4 -6,-12.8 0,-12.8 C6,-12.8 9,-9.4 10.4,-5 L12.4,-4.8 L11.5,-1 L11.5,5 L10.8,7.2 L7.5,7.2 L7,5.4 L-7,5.4 L-7.5,7.2 L-10.8,7.2 L-11.5,5 Z"/>
        <path fill="#050505" d="M-7.6,-5 C-6.5,-9.6 -4,-11 0,-11 C4,-11 6.5,-9.6 7.6,-5 C4,-6.2 -4,-6.2 -7.6,-5 Z"/>
        <ellipse cx="-8.2" cy="-1.6" rx="2.1" ry="0.95" fill="#050505" transform="rotate(14 -8.2 -1.6)"/>
        <ellipse cx="8.2" cy="-1.6" rx="2.1" ry="0.95" fill="#050505" transform="rotate(-14 8.2 -1.6)"/>
        <rect x="-5" y="-1.2" width="10" height="1.1" fill="#050505"/>
        <rect x="-5.6" y="1.2" width="11.2" height="1.3" fill="#050505"/>
        <ellipse cx="-8.6" cy="2.4" rx="1.5" ry="0.7" fill="#050505"/>
        <ellipse cx="8.6" cy="2.4" rx="1.5" ry="0.7" fill="#050505"/>
      </g>
    </g>
  </g>
  <!-- SECTION:BOX -->
</svg>
</body>
</html>
